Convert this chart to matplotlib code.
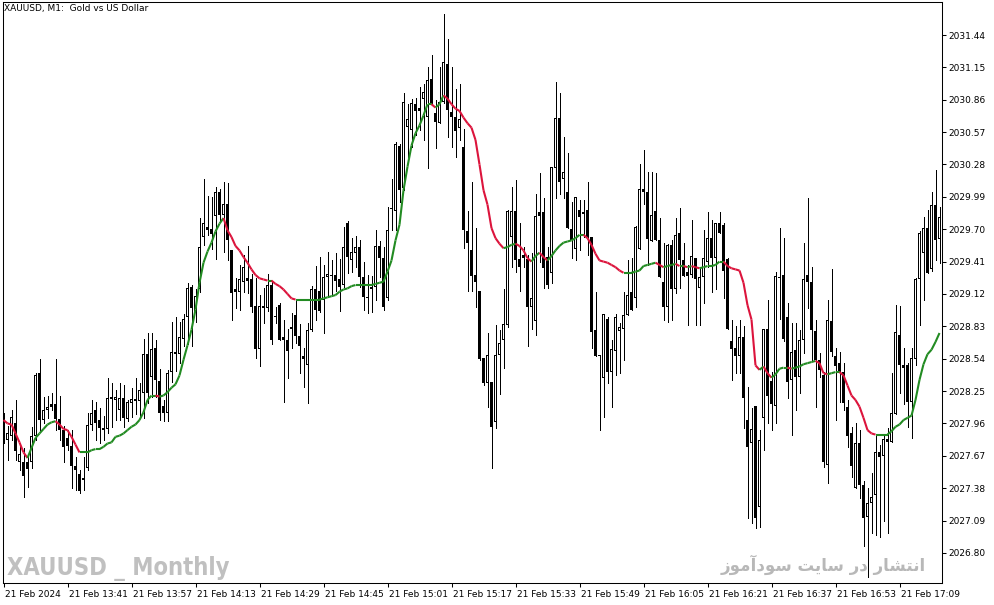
'''MT4-style M1 candlestick chart of XAUUSD with a two-colour moving average.'''

import numpy as np
import pandas as pd
import matplotlib
matplotlib.use('Agg')
import matplotlib.pyplot as plt
import matplotlib.transforms as mtransforms
from matplotlib.collections import LineCollection

# OHLC of the M1 bars, first bar 21 Feb 2024 13:25
opens = [
    2027.99, 2027.81, 2027.85, 2027.96, 2027.61, 2027.61, 2027.61, 2027.61, 2027.85, 2028.41,
    2027.99, 2028.08, 2028.11, 2028.13, 2028.00, 2027.90, 2027.83, 2027.76, 2027.58, 2027.51,
    2027.45, 2027.56, 2027.95, 2028.08, 2027.99, 2027.92, 2027.91, 2028.18, 2028.17, 2028.08,
    2028.19, 2028.00, 2028.14, 2028.18, 2028.16, 2028.23, 2028.58, 2028.38, 2028.64, 2028.34,
    2028.12, 2028.05, 2028.42, 2028.60, 2028.58, 2028.72, 2028.91, 2029.18, 2028.96, 2029.16,
    2029.63, 2029.72, 2029.70, 2029.82, 2030.03, 2029.83, 2029.93, 2029.51, 2029.16, 2029.14,
    2029.23, 2029.26, 2029.25, 2029.01, 2028.63, 2029.01, 2028.99, 2029.20, 2028.91, 2029.02,
    2028.73, 2028.71, 2028.81, 2028.93, 2028.74, 2028.56, 2028.48, 2028.80, 2029.16, 2029.15,
    2029.07, 2029.27, 2029.29, 2029.29, 2029.25, 2029.20, 2029.76, 2029.42, 2029.49, 2029.54,
    2029.27, 2029.09, 2029.18, 2029.18, 2029.55, 2029.44, 2029.08, 2029.88, 2029.86, 2030.45,
    2030.07, 2030.62, 2030.59, 2030.82, 2030.79, 2030.87, 2030.71, 2031.05, 2030.74, 2030.65,
    2030.84, 2031.18, 2030.75, 2030.71, 2030.61, 2030.44, 2029.68, 2029.51, 2029.29, 2029.15,
    2028.55, 2028.32, 2028.33, 2027.97, 2028.57, 2028.71, 2028.84, 2029.63, 2029.86, 2029.43,
    2029.47, 2029.43, 2029.00, 2028.88, 2029.85, 2029.85, 2029.45, 2029.31, 2030.25, 2030.70,
    2030.15, 2030.03, 2029.70, 2029.52, 2029.87, 2029.85, 2029.87, 2029.63, 2028.80, 2028.57,
    2028.37, 2028.90, 2028.42, 2028.61, 2028.79, 2028.81, 2028.93, 2029.14, 2029.08, 2029.52,
    2030.06, 2030.03, 2029.59, 2029.86, 2029.60, 2029.23, 2029.00, 2029.56, 2029.16, 2029.67,
    2029.42, 2029.32, 2029.29, 2029.44, 2029.17, 2029.27, 2029.41, 2029.62, 2029.44, 2029.76,
    2029.74, 2029.43, 2028.70, 2028.64, 2028.56, 2028.73, 2027.99, 2027.78, 2028.12, 2027.21,
    2028.01, 2028.81, 2028.34, 2028.12, 2029.27, 2029.29, 2028.91, 2028.35, 2028.62, 2028.38,
    2028.71, 2029.29, 2029.23, 2028.79, 2028.53, 2028.39, 2027.59, 2028.88, 2028.56, 2028.50,
    2028.42, 2028.11, 2027.87, 2027.38, 2027.78, 2027.41, 2027.12, 2027.25, 2027.32, 2027.70,
    2027.67, 2027.82, 2027.79, 2028.04, 2028.75, 2028.48, 2028.48, 2028.15, 2028.54, 2029.25,
    2029.49, 2029.71, 2029.34, 2029.92, 2029.61,
]
highs = [
    2028.05, 2027.94, 2028.08, 2028.17, 2027.77, 2027.74, 2027.66, 2027.93, 2028.41, 2028.54,
    2028.20, 2028.21, 2028.23, 2028.54, 2028.21, 2027.94, 2027.90, 2027.90, 2027.66, 2027.54,
    2027.66, 2028.05, 2028.17, 2028.15, 2028.10, 2028.03, 2028.37, 2028.32, 2028.26, 2028.32,
    2028.30, 2028.17, 2028.28, 2028.37, 2028.32, 2028.72, 2028.77, 2028.77, 2028.71, 2028.45,
    2028.17, 2028.44, 2028.87, 2028.91, 2028.87, 2028.94, 2029.22, 2029.20, 2029.16, 2029.80,
    2030.15, 2030.00, 2029.99, 2030.08, 2030.06, 2030.12, 2030.11, 2029.51, 2029.26, 2029.38,
    2029.47, 2029.55, 2029.30, 2029.26, 2029.11, 2029.17, 2029.30, 2029.24, 2029.00, 2029.04,
    2028.89, 2028.81, 2028.95, 2029.06, 2028.85, 2028.64, 2028.86, 2029.19, 2029.37, 2029.45,
    2029.38, 2029.50, 2029.42, 2029.49, 2029.43, 2029.72, 2029.77, 2029.62, 2029.64, 2029.60,
    2029.41, 2029.29, 2029.28, 2029.69, 2029.59, 2029.54, 2029.90, 2030.15, 2030.48, 2030.46,
    2030.92, 2030.82, 2030.87, 2030.88, 2030.97, 2031.00, 2031.15, 2031.26, 2030.86, 2031.15,
    2031.63, 2031.40, 2031.15, 2030.96, 2031.00, 2030.60, 2029.86, 2030.12, 2029.71, 2029.15,
    2028.55, 2028.77, 2028.33, 2028.84, 2028.80, 2029.16, 2029.87, 2030.08, 2030.14, 2029.76,
    2029.54, 2029.47, 2029.49, 2030.02, 2030.20, 2029.98, 2029.54, 2030.26, 2031.02, 2030.92,
    2030.53, 2030.38, 2029.94, 2029.99, 2029.96, 2029.96, 2030.12, 2029.63, 2029.14, 2028.57,
    2028.94, 2028.91, 2028.71, 2028.94, 2028.86, 2029.14, 2029.42, 2029.44, 2029.73, 2030.28,
    2030.41, 2030.21, 2030.21, 2030.20, 2029.80, 2029.58, 2029.57, 2029.60, 2029.80, 2029.89,
    2029.58, 2029.38, 2029.78, 2029.44, 2029.36, 2029.69, 2029.85, 2029.78, 2029.76, 2029.85,
    2029.76, 2029.44, 2028.89, 2028.83, 2028.89, 2028.83, 2028.29, 2028.10, 2028.12, 2027.90,
    2028.81, 2029.07, 2028.42, 2029.32, 2029.71, 2029.62, 2029.04, 2028.86, 2028.86, 2028.80,
    2029.58, 2029.98, 2029.36, 2028.89, 2028.59, 2028.42, 2029.07, 2029.34, 2028.64, 2028.60,
    2028.50, 2028.17, 2027.93, 2027.96, 2027.90, 2027.44, 2027.38, 2027.52, 2027.86, 2027.77,
    2027.86, 2027.92, 2028.41, 2029.02, 2029.01, 2028.64, 2028.50, 2028.64, 2029.26, 2029.68,
    2029.81, 2029.87, 2030.03, 2030.23, 2029.90,
]
lows = [
    2027.78, 2027.63, 2027.81, 2027.63, 2027.54, 2027.30, 2027.39, 2027.56, 2027.81, 2027.90,
    2027.96, 2028.01, 2028.08, 2027.90, 2027.81, 2027.61, 2027.72, 2027.38, 2027.36, 2027.34,
    2027.36, 2027.54, 2027.90, 2027.81, 2027.78, 2027.81, 2027.87, 2027.93, 2027.99, 2027.99,
    2027.93, 2027.98, 2028.02, 2028.04, 2028.01, 2028.01, 2028.14, 2028.20, 2028.20, 2027.99,
    2027.98, 2027.98, 2028.33, 2028.43, 2028.50, 2028.65, 2028.67, 2028.65, 2028.87, 2029.14,
    2029.56, 2029.65, 2029.52, 2029.43, 2029.77, 2029.50, 2029.42, 2028.89, 2028.99, 2028.98,
    2029.14, 2029.13, 2028.96, 2028.55, 2028.47, 2028.86, 2028.97, 2028.67, 2028.86, 2028.71,
    2028.15, 2028.37, 2028.64, 2028.68, 2028.41, 2028.29, 2028.14, 2028.79, 2028.89, 2028.96,
    2028.77, 2029.11, 2029.11, 2029.15, 2028.97, 2029.18, 2029.31, 2029.32, 2029.36, 2029.18,
    2028.98, 2028.95, 2028.96, 2029.07, 2029.27, 2028.98, 2029.07, 2029.69, 2029.69, 2029.94,
    2030.05, 2030.35, 2030.44, 2030.54, 2030.59, 2030.50, 2030.25, 2030.81, 2030.43, 2030.65,
    2030.83, 2030.53, 2030.44, 2030.35, 2030.50, 2029.53, 2029.15, 2029.15, 2029.00, 2028.53,
    2028.30, 2028.11, 2027.56, 2027.92, 2028.22, 2028.46, 2028.82, 2029.36, 2029.32, 2029.15,
    2029.36, 2028.65, 2028.81, 2028.75, 2029.41, 2029.17, 2029.17, 2029.22, 2029.98, 2030.02,
    2029.98, 2029.71, 2029.44, 2029.42, 2029.51, 2029.63, 2029.47, 2028.64, 2028.56, 2027.90,
    2028.02, 2028.32, 2028.11, 2028.39, 2028.41, 2028.53, 2028.93, 2028.98, 2029.00, 2029.52,
    2029.93, 2029.38, 2029.59, 2029.60, 2029.27, 2028.89, 2028.87, 2028.89, 2029.13, 2029.17,
    2029.28, 2028.84, 2029.27, 2028.84, 2028.84, 2029.04, 2029.36, 2029.14, 2029.16, 2029.67,
    2029.08, 2028.81, 2028.35, 2028.41, 2028.41, 2027.92, 2027.11, 2027.07, 2027.02, 2027.03,
    2027.72, 2027.96, 2027.90, 2027.96, 2028.90, 2028.70, 2028.19, 2027.86, 2028.08, 2028.23,
    2028.59, 2028.99, 2028.53, 2028.11, 2028.38, 2027.57, 2027.43, 2028.56, 2027.99, 2028.15,
    2028.08, 2027.75, 2027.48, 2027.38, 2027.29, 2026.86, 2026.58, 2026.98, 2026.96, 2026.94,
    2027.09, 2026.98, 2027.79, 2028.04, 2028.23, 2028.13, 2027.93, 2027.83, 2028.48, 2028.84,
    2029.07, 2029.31, 2029.33, 2029.42, 2029.40,
]
closes = [
    2027.81, 2027.87, 2028.02, 2027.71, 2027.69, 2027.49, 2027.55, 2027.85, 2028.39, 2027.99,
    2028.08, 2028.11, 2028.13, 2028.00, 2027.90, 2027.75, 2027.76, 2027.58, 2027.54, 2027.35,
    2027.47, 2027.95, 2028.05, 2027.96, 2027.92, 2027.90, 2028.19, 2028.20, 2028.20, 2028.19,
    2028.01, 2028.15, 2028.18, 2028.16, 2028.26, 2028.58, 2028.23, 2028.63, 2028.35, 2028.05,
    2028.05, 2028.41, 2028.60, 2028.58, 2028.73, 2028.90, 2029.17, 2028.99, 2029.10, 2029.54,
    2029.76, 2029.69, 2029.66, 2030.03, 2029.83, 2029.93, 2029.60, 2029.13, 2029.14, 2029.25,
    2029.36, 2029.24, 2029.00, 2028.63, 2029.01, 2028.99, 2029.20, 2028.71, 2028.92, 2028.71,
    2028.71, 2028.61, 2028.82, 2028.74, 2028.65, 2028.54, 2028.80, 2029.16, 2028.98, 2028.97,
    2029.27, 2029.30, 2029.28, 2029.24, 2029.18, 2029.54, 2029.45, 2029.50, 2029.54, 2029.27,
    2029.09, 2029.08, 2029.16, 2029.55, 2029.44, 2029.00, 2029.69, 2029.89, 2030.46, 2030.05,
    2030.84, 2030.69, 2030.83, 2030.76, 2030.76, 2030.93, 2031.04, 2030.83, 2030.66, 2030.84,
    2031.20, 2030.77, 2030.71, 2030.58, 2030.69, 2029.69, 2029.58, 2029.28, 2029.23, 2028.54,
    2028.32, 2028.57, 2027.93, 2028.57, 2028.68, 2028.85, 2029.86, 2029.86, 2029.42, 2029.36,
    2029.44, 2029.00, 2029.08, 2029.82, 2029.82, 2029.35, 2029.20, 2030.26, 2030.70, 2030.12,
    2030.21, 2029.71, 2029.60, 2029.99, 2029.81, 2029.84, 2029.63, 2028.78, 2028.56, 2028.56,
    2028.94, 2028.42, 2028.63, 2028.91, 2028.82, 2028.93, 2029.11, 2028.98, 2029.72, 2030.06,
    2030.03, 2029.61, 2029.83, 2029.60, 2029.27, 2029.00, 2029.56, 2029.16, 2029.65, 2029.42,
    2029.28, 2029.28, 2029.46, 2029.25, 2029.27, 2029.44, 2029.62, 2029.44, 2029.76, 2029.67,
    2029.33, 2028.81, 2028.63, 2028.56, 2028.73, 2028.19, 2027.75, 2027.91, 2027.11, 2027.81,
    2028.81, 2028.21, 2028.13, 2029.28, 2029.26, 2028.72, 2028.33, 2028.60, 2028.38, 2028.71,
    2029.25, 2029.23, 2028.80, 2028.53, 2028.44, 2027.61, 2028.89, 2028.60, 2028.47, 2028.41,
    2028.14, 2027.85, 2027.58, 2027.78, 2027.41, 2027.11, 2027.25, 2027.30, 2027.70, 2027.66,
    2027.82, 2027.79, 2028.05, 2028.78, 2028.48, 2028.46, 2028.15, 2028.55, 2029.25, 2029.67,
    2029.71, 2029.31, 2029.92, 2029.60, 2029.81,
]

# moving average line
ma_values = [
    2027.99, 2027.96, 2027.95, 2027.87, 2027.79, 2027.70, 2027.65, 2027.74, 2027.83, 2027.87,
    2027.91, 2027.95, 2027.97, 2027.98, 2027.95, 2027.91, 2027.90, 2027.84, 2027.77, 2027.70,
    2027.70, 2027.70, 2027.72, 2027.73, 2027.73, 2027.75, 2027.78, 2027.79, 2027.84, 2027.85,
    2027.87, 2027.90, 2027.93, 2027.95, 2027.99, 2028.06, 2028.17, 2028.21, 2028.21, 2028.20,
    2028.21, 2028.24, 2028.28, 2028.31, 2028.39, 2028.53, 2028.66, 2028.80, 2028.98, 2029.22,
    2029.40, 2029.50, 2029.58, 2029.68, 2029.75, 2029.80, 2029.69, 2029.63, 2029.55, 2029.51,
    2029.45, 2029.40, 2029.34, 2029.29, 2029.26, 2029.25, 2029.24, 2029.24, 2029.21, 2029.19,
    2029.16, 2029.12, 2029.08, 2029.07, 2029.07, 2029.07, 2029.07, 2029.07, 2029.07, 2029.07,
    2029.08, 2029.09, 2029.10, 2029.11, 2029.14, 2029.16, 2029.17, 2029.19, 2029.20, 2029.20,
    2029.20, 2029.20, 2029.20, 2029.21, 2029.22, 2029.23, 2029.32, 2029.42, 2029.60, 2029.74,
    2030.05, 2030.26, 2030.45, 2030.56, 2030.63, 2030.72, 2030.82, 2030.82, 2030.79, 2030.82,
    2030.90, 2030.87, 2030.82, 2030.78, 2030.76, 2030.70, 2030.65, 2030.61, 2030.50, 2030.28,
    2030.05, 2029.92, 2029.71, 2029.62, 2029.57, 2029.53, 2029.54, 2029.56, 2029.57, 2029.55,
    2029.51, 2029.44, 2029.41, 2029.46, 2029.49, 2029.45, 2029.42, 2029.46, 2029.51, 2029.55,
    2029.58, 2029.59, 2029.60, 2029.62, 2029.65, 2029.65, 2029.62, 2029.56, 2029.48, 2029.42,
    2029.41, 2029.40, 2029.38, 2029.36, 2029.33, 2029.31, 2029.31, 2029.31, 2029.32, 2029.33,
    2029.37, 2029.38, 2029.39, 2029.40, 2029.38, 2029.36, 2029.37, 2029.38, 2029.39, 2029.37,
    2029.37, 2029.36, 2029.37, 2029.36, 2029.35, 2029.36, 2029.37, 2029.37, 2029.38, 2029.41,
    2029.41, 2029.37, 2029.35, 2029.34, 2029.33, 2029.22, 2029.02, 2028.89, 2028.48, 2028.44,
    2028.47, 2028.41, 2028.37, 2028.40, 2028.45, 2028.46, 2028.46, 2028.45, 2028.46, 2028.47,
    2028.49, 2028.50, 2028.51, 2028.52, 2028.50, 2028.41, 2028.40, 2028.41, 2028.42, 2028.42,
    2028.39, 2028.30, 2028.21, 2028.17, 2028.11, 2028.01, 2027.90, 2027.87, 2027.86, 2027.86,
    2027.86, 2027.86, 2027.89, 2027.93, 2027.95, 2027.99, 2028.01, 2028.03, 2028.17, 2028.35,
    2028.49, 2028.58, 2028.62, 2028.69, 2028.77,
]

price_ticks = [2026.80, 2027.09, 2027.38, 2027.67, 2027.96, 2028.25, 2028.54, 2028.83, 2029.12,
               2029.41, 2029.70, 2029.99, 2030.28, 2030.57, 2030.86, 2031.15, 2031.44]
time_labels = ['21 Feb 2024', '21 Feb 13:41', '21 Feb 13:57', '21 Feb 14:13', '21 Feb 14:29',
               '21 Feb 14:45', '21 Feb 15:01', '21 Feb 15:17', '21 Feb 15:33', '21 Feb 15:49',
               '21 Feb 16:05', '21 Feb 16:21', '21 Feb 16:37', '21 Feb 16:53', '21 Feb 17:09']

chart_title = 'XAUUSD, M1:  Gold vs US Dollar'
watermark_left = 'XAUUSD _ Monthly'
# 'انتشار در سایت سودآموز' written with Arabic presentation forms in visual order,
# because matplotlib does no Arabic shaping or right-to-left layout itself
watermark_right = ('\uFEAF\uFEEE\uFEE3\uFE81\uFEA9\uFEEE\uFEB3 '
                   '\uFE96\uFBFE\uFE8E\uFEB3 '
                   '\uFEAD\uFEA9 '
                   '\uFEAD\uFE8E\uFEB8\uFE98\uFEE7\uFE8D')

UP_COLOR = '#228B22'
DOWN_COLOR = '#DC143C'

o = np.array(opens)
h = np.array(highs)
l = np.array(lows)
c = np.array(closes)
ma = np.array(ma_values)
x = np.arange(len(c))
times = pd.date_range('2024-02-21 13:25', periods=len(c), freq='min')

W, H = 994, 605
fig = plt.figure(figsize=(W / 100, H / 100), dpi=100)
ax = fig.add_axes([3 / W, 22 / H, 939 / W, 581 / H])
ax.set_xlim(-0.125, 234.625)   # 4 px per bar
ax.set_ylim(2026.530, 2031.736)
px = (2031.736 - 2026.530) / 581  # one pixel in price units

# candles: 1 px wicks, 3 px bodies, bull bodies hollow (1 px white core)
ax.vlines(x, l, h, color='black', linewidth=0.72, antialiased=False, zorder=2)
body_lo = np.minimum(o, c)
body_h = np.maximum(np.abs(c - o), px)
ax.bar(x, body_h, bottom=body_lo, width=0.75, color='black', linewidth=0,
       antialiased=False, zorder=3)
bull = (c > o) & (body_h > 2.5 * px)
ax.bar(x[bull], body_h[bull] - 2 * px, bottom=body_lo[bull] + px, width=0.25,
       color='white', linewidth=0, antialiased=False, zorder=3)

# moving average, green while rising and red while falling
pts = np.column_stack([x, ma])
segs = np.stack([pts[:-1], pts[1:]], axis=1)
seg_colors = [DOWN_COLOR if d < 0 else UP_COLOR for d in np.diff(ma)]
ax.add_collection(LineCollection(segs, colors=seg_colors, linewidths=1.5, zorder=4))

# price scale on the right
ax.yaxis.tick_right()
ax.set_yticks(price_ticks)
ax.set_yticklabels(['%.2f' % p for p in price_ticks])
ax.tick_params(axis='y', direction='out', length=3, width=0.75, pad=1.5, labelsize=6.5)

# time scale: date on the first bar, then every 16 minutes
stamps = ['21 Feb ' + t.strftime('%H:%M') for t in times]
tick_pos = [0] + [i for i, s in enumerate(stamps) if s in time_labels[1:]]
ax.set_xticks(tick_pos)
ax.set_xticklabels(time_labels)
ax.tick_params(axis='x', direction='out', length=3, width=0.75, pad=2, labelsize=6.5)
shift = mtransforms.ScaledTranslation(1.5 / 100, 0, fig.dpi_scale_trans)
for lab in ax.get_xticklabels():
    lab.set_horizontalalignment('left')
    lab.set_transform(lab.get_transform() + shift)

for sp in ax.spines.values():
    sp.set_linewidth(0.75)
    sp.set_color('black')

ax.text(4 / W, 1 - 9 / H, chart_title, transform=fig.transFigure, fontsize=6.5,
        va='center', ha='left')
ax.text(7 / W, 1 - 575 / H, watermark_left, transform=fig.transFigure, fontsize=17,
        family='DejaVu Sans', fontstretch='condensed', weight='bold', color='#c0c0c0',
        va='baseline', ha='left', zorder=0)
ax.text(926 / W, 1 - 565 / H, watermark_right, transform=fig.transFigure, fontsize=12,
        family='DejaVu Sans', weight='bold', color='#b8b8b8',
        va='center', ha='right', zorder=0)

fig.savefig('out.png', dpi=100, facecolor='white')
